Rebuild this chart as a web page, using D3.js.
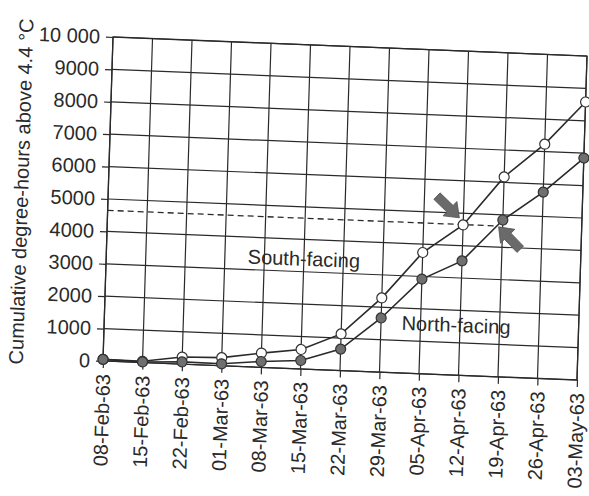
<!DOCTYPE html>
<html>
<head>
<meta charset="utf-8">
<script src="https://cdn.jsdelivr.net/npm/d3@7/dist/d3.min.js"></script>
<style>
  body { margin: 0; background: #fff; }
  svg { display: block; font-family: "Liberation Sans", Arial, Helvetica, sans-serif; }
</style>
</head>
<body>
<svg id="chart" width="589" height="496"></svg>
<script>
// weekly dates on the x axis
const dates = ['08-Feb-63', '15-Feb-63', '22-Feb-63', '01-Mar-63', '08-Mar-63', '15-Mar-63',
  '22-Mar-63', '29-Mar-63', '05-Apr-63', '12-Apr-63', '19-Apr-63', '26-Apr-63', '03-May-63']

// cumulative degree-hours above 4.4 C
const southFacing = [50, 40, 220, 250, 440, 600, 1130, 2290, 3740, 4640, 6170, 7230, 8580]
const northFacing = [50, 20, 70, 60, 180, 260, 660, 1670, 2920, 3530, 4840, 5750, 6850]

const yTicks = [0, 1000, 2000, 3000, 4000, 5000, 6000, 7000, 8000, 9000, 10000]
const yTickLabels = ['0', '1000', '2000', '3000', '4000', '5000', '6000', '7000', '8000', '9000', '10 000']

// level where north-facing catches up with south-facing (one week later)
const thresholdLevel = 4650

const W = 474
const H = 324
const ink = '#2a2a2a'

const svg = d3.select('#chart')

// the original is a slightly tilted scan, so the whole plot sits in a skewed frame
const g = svg.append('g')
  .attr('transform', 'matrix(1,0.0401,-0.0309,1,113,37)')

const x = d3.scaleLinear().domain([0, dates.length - 1]).range([0, W])
const y = d3.scaleLinear().domain([0, 10000]).range([H, 0])

// grid
g.append('g').selectAll('line')
  .data(d3.range(dates.length))
  .enter().append('line')
  .attr('x1', d => x(d)).attr('x2', d => x(d))
  .attr('y1', 0).attr('y2', H)
  .attr('stroke', ink).attr('stroke-width', 1.2)

g.append('g').selectAll('line')
  .data(yTicks)
  .enter().append('line')
  .attr('x1', 0).attr('x2', W)
  .attr('y1', d => y(d)).attr('y2', d => y(d))
  .attr('stroke', ink).attr('stroke-width', 1.2)

// axes
const yAxis = g.append('g')
  .call(d3.axisLeft(y).tickValues(yTicks).tickSize(7).tickPadding(6)
    .tickFormat((d, i) => yTickLabels[i]))
yAxis.select('.domain').remove()
yAxis.selectAll('line').attr('stroke', ink).attr('stroke-width', 1.2)
yAxis.selectAll('text').attr('font-size', 20).attr('fill', ink)
  .attr('font-family', '"Liberation Sans", Arial, sans-serif')

const xAxis = g.append('g')
  .attr('transform', `translate(0,${H})`)
  .call(d3.axisBottom(x).tickValues(d3.range(dates.length)).tickSize(7)
    .tickFormat(i => dates[i]))
xAxis.select('.domain').remove()
xAxis.selectAll('line').attr('stroke', ink).attr('stroke-width', 1.2)
xAxis.selectAll('text')
  .attr('font-size', 20).attr('fill', ink)
  .attr('font-family', '"Liberation Sans", Arial, sans-serif')
  .attr('transform', 'rotate(-90)')
  .attr('text-anchor', 'end')
  .attr('x', -13).attr('y', 0).attr('dy', '0.35em')

g.append('rect')
  .attr('width', W).attr('height', H)
  .attr('fill', 'none').attr('stroke', ink).attr('stroke-width', 1.3)

// y title
g.append('text')
  .attr('transform', `translate(-87,${H / 2 - 4}) rotate(-90)`)
  .attr('text-anchor', 'middle').attr('dy', '0.35em')
  .attr('font-size', 20).attr('fill', ink)
  .text('Cumulative degree-hours above 4.4 °C')

// dashed threshold
g.append('line')
  .attr('x1', x(0)).attr('x2', x(9.85))
  .attr('y1', y(thresholdLevel)).attr('y2', y(thresholdLevel))
  .attr('stroke', ink).attr('stroke-width', 1.3)
  .attr('stroke-dasharray', '6,4')

// series
const line = d3.line().x((d, i) => x(i)).y(d => y(d))

const drawSeries = (values, fill) => {
  g.append('path')
    .datum(values)
    .attr('d', line)
    .attr('fill', 'none').attr('stroke', ink).attr('stroke-width', 1.6)
  g.append('g').selectAll('circle')
    .data(values)
    .enter().append('circle')
    .attr('cx', (d, i) => x(i)).attr('cy', d => y(d))
    .attr('r', 5)
    .attr('fill', fill).attr('stroke', '#333').attr('stroke-width', 1.2)
}

drawSeries(southFacing, '#fff')
drawSeries(northFacing, '#6f6f6f')

// series labels
g.append('text')
  .attr('x', x(5)).attr('y', y(3400)).attr('dy', '0.35em')
  .attr('text-anchor', 'middle').attr('font-size', 20).attr('fill', ink)
  .text('South-facing')

g.append('text')
  .attr('x', x(8.9)).attr('y', y(1545)).attr('dy', '0.35em')
  .attr('text-anchor', 'middle').attr('font-size', 20).attr('fill', ink)
  .text('North-facing')

// block arrows pointing at the two points where each slope hits the threshold
const arrowShape = (L) => [[0, -4.5], [L - 13, -4.5], [L - 13, -10], [L, 0], [L - 13, 10], [L - 13, 4.5], [0, 4.5]]
const arrows = [
  { i: 9, v: southFacing[9], dx: -4, dy: -7, angle: 42 },
  { i: 10, v: northFacing[10], dx: -4, dy: 7, angle: -136 }
]
arrows.forEach(a => {
  const tx = x(a.i) + a.dx
  const ty = y(a.v) + a.dy
  const L = 31
  const rad = a.angle * Math.PI / 180
  g.append('polygon')
    .attr('points', arrowShape(L).map(p => p.join(',')).join(' '))
    .attr('transform', `translate(${tx - L * Math.cos(rad)},${ty - L * Math.sin(rad)}) rotate(${a.angle})`)
    .attr('fill', '#6a6a6a').attr('stroke', '#555').attr('stroke-width', 0.8)
})
</script>
</body>
</html>
